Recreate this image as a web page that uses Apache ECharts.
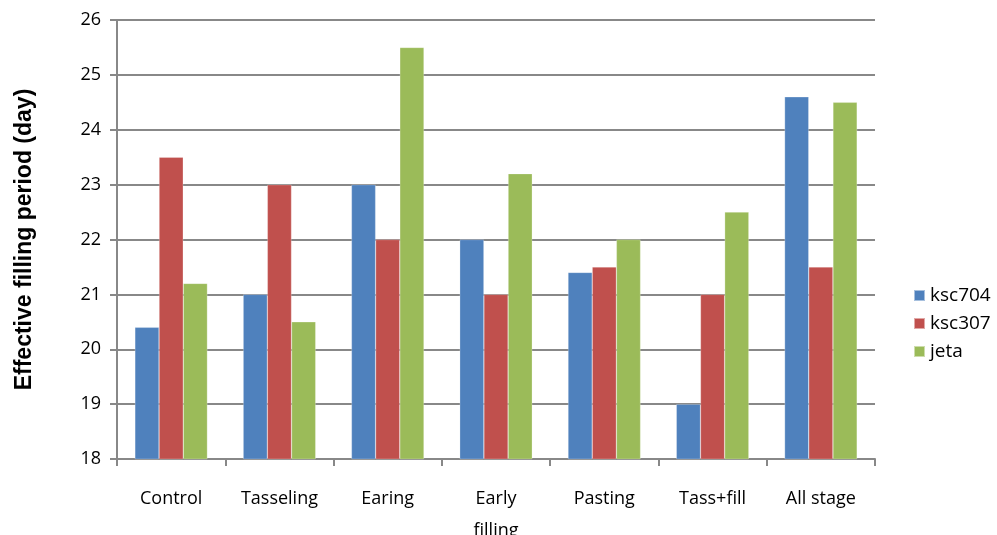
<!DOCTYPE html>
<html>
<head>
<meta charset="utf-8">
<script src="https://cdn.jsdelivr.net/npm/echarts@6/dist/echarts.min.js"></script>
<style>html,body{margin:0;padding:0;background:#fff}#c{width:997px;height:535px}</style>
</head>
<body>
<div id="c"></div>
<script>
const categories = ['Control', 'Tasseling', 'Earing', 'Early\nfilling', 'Pasting', 'Tass+fill', 'All stage'];
const ksc704 = [20.4, 21, 23, 22, 21.4, 19, 24.6];
const ksc307 = [23.5, 23, 22, 21, 21.5, 21, 21.5];
const jeta = [21.2, 20.5, 25.5, 23.2, 22, 22.5, 24.5];
const yTicks = { min: 18, max: 26, interval: 1 };

const font = 'Open Sans';
const chart = echarts.init(document.getElementById('c'));
const mk = (name, data, color) => ({
  name, type: 'bar', data, barGap: '0%', barCategoryGap: '33%',
  itemStyle: { color, borderColor: 'rgba(255,255,255,0.5)', borderWidth: 0.5 }
});
chart.setOption({
  animation: false,
  grid: { left: 117, right: 122, top: 20, bottom: 76, containLabel: false, outerBoundsMode: 'none' },
  legend: {
    orient: 'vertical', left: 908, top: 281, itemGap: 9,
    icon: 'rect', itemWidth: 11, itemHeight: 11,
    textStyle: { fontFamily: font, fontSize: 19, color: '#000' },
    data: ['ksc704', 'ksc307', 'jeta']
  },
  xAxis: {
    type: 'category', data: categories,
    axisLine: { lineStyle: { color: '#888', width: 2 } },
    axisTick: { show: true, interval: 0, length: 7, lineStyle: { color: '#888', width: 2 } },
    axisLabel: { interval: 0, margin: 24, fontFamily: font, fontSize: 18, color: '#000', lineHeight: 32 }
  },
  yAxis: {
    type: 'value', min: yTicks.min, max: yTicks.max, interval: yTicks.interval,
    name: 'Effective filling period (day)', nameLocation: 'middle', nameGap: 81,
    nameTextStyle: { fontFamily: 'Liberation Sans', fontWeight: 'bold', fontSize: 23, color: '#000' },
    axisLine: { show: true, lineStyle: { color: '#888', width: 2 } },
    axisTick: { show: true, length: 7, lineStyle: { color: '#888', width: 2 } },
    splitLine: { lineStyle: { color: '#888', width: 2 } },
    axisLabel: { margin: 16, fontFamily: font, fontSize: 18, color: '#000' }
  },
  series: [
    mk('ksc704', ksc704, '#4f81bd'),
    mk('ksc307', ksc307, '#c0504d'),
    mk('jeta', jeta, '#9bbb59')
  ]
});
</script>
</body>
</html>
